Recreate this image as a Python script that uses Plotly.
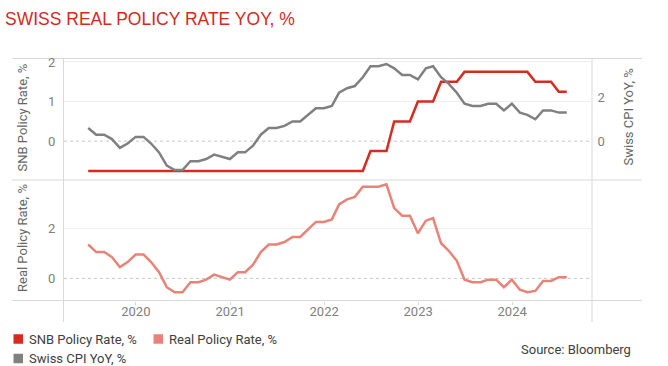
import pandas as pd
import plotly.graph_objects as go

# ---------------- data (monthly, month-end, Jun 2019 – Jul 2024) ----------------
months = pd.date_range("2019-06-30", periods=62, freq=pd.offsets.MonthEnd())

snb_rate = [
    -0.75, -0.75, -0.75, -0.75, -0.75, -0.75, -0.75,                          # 2019 Jun-Dec
    -0.75, -0.75, -0.75, -0.75, -0.75, -0.75, -0.75, -0.75, -0.75, -0.75, -0.75, -0.75,  # 2020
    -0.75, -0.75, -0.75, -0.75, -0.75, -0.75, -0.75, -0.75, -0.75, -0.75, -0.75, -0.75,  # 2021
    -0.75, -0.75, -0.75, -0.75, -0.75, -0.25, -0.25, -0.25, 0.5, 0.5, 0.5, 1.0,          # 2022
    1.0, 1.0, 1.5, 1.5, 1.5, 1.75, 1.75, 1.75, 1.75, 1.75, 1.75, 1.75,                   # 2023
    1.75, 1.75, 1.5, 1.5, 1.5, 1.25, 1.25,                                              # 2024
]
swiss_cpi = [
    0.6, 0.3, 0.3, 0.1, -0.3, -0.1, 0.2,
    0.2, -0.1, -0.5, -1.1, -1.3, -1.3, -0.9, -0.9, -0.8, -0.6, -0.7, -0.8,
    -0.5, -0.5, -0.2, 0.3, 0.6, 0.6, 0.7, 0.9, 0.9, 1.2, 1.5, 1.5,
    1.6, 2.2, 2.4, 2.5, 2.9, 3.4, 3.4, 3.5, 3.3, 3.0, 3.0, 2.8,
    3.3, 3.4, 2.9, 2.6, 2.2, 1.7, 1.6, 1.6, 1.7, 1.7, 1.4, 1.7,
    1.3, 1.2, 1.0, 1.4, 1.4, 1.3, 1.3,
]
real_rate = [
    1.35, 1.05, 1.05, 0.85, 0.45, 0.65, 0.95,
    0.95, 0.65, 0.25, -0.35, -0.55, -0.55, -0.15, -0.15, -0.05, 0.15, 0.05, -0.05,
    0.25, 0.25, 0.55, 1.05, 1.35, 1.35, 1.45, 1.65, 1.65, 1.95, 2.25, 2.25,
    2.35, 2.95, 3.15, 3.25, 3.65, 3.65, 3.65, 3.75, 2.8, 2.5, 2.5, 1.8,
    2.3, 2.4, 1.4, 1.1, 0.7, -0.05, -0.15, -0.15, -0.05, -0.05, -0.35, -0.05,
    -0.45, -0.55, -0.5, -0.1, -0.1, 0.05, 0.05,
]

series_names = ["SNB Policy Rate, %", "Real Policy Rate, %", "Swiss CPI YoY, %"]
title_text = "SWISS REAL POLICY RATE YOY, %"
source_text = "Source: Bloomberg"

# ---------------- style ----------------
RED = "#d62b1f"
SALMON = "#e98377"
GREY = "#808080"
LINE = "#d9d9d9"
NARROW = "Roboto, sans-serif"
W, H = 668, 366
L, R, T, B = 64, 76, 58, 65
PW, PH = W - L - R, H - T - B


def px_x(px):
    return (px - L) / PW


def px_y(py):
    return (H - B - py) / PH


fig = go.Figure()
fig.add_trace(go.Scatter(x=months, y=swiss_cpi, name=series_names[2], mode="lines",
                         line=dict(color=GREY, width=2.5), xaxis="x", yaxis="y2", showlegend=False))
fig.add_trace(go.Scatter(x=months, y=snb_rate, name=series_names[0], mode="lines",
                         line=dict(color=RED, width=2.5), xaxis="x", yaxis="y", showlegend=False))
fig.add_trace(go.Scatter(x=months, y=real_rate, name=series_names[1], mode="lines",
                         line=dict(color=SALMON, width=2.5), xaxis="x", yaxis="y3", showlegend=False))

split = px_y(180)
tickfont = dict(family=NARROW, size=13, color="#808080")

fig.update_layout(
    width=W, height=H, margin=dict(l=L, r=R, t=T, b=B),
    paper_bgcolor="white", plot_bgcolor="white",
    showlegend=False,
    xaxis=dict(domain=[0, 1], anchor="y3", type="date",
               range=["2019-03-28", "2024-11-06"],
               tick0="2020-01-01", dtick="M12", tickformat="%Y",
               showgrid=False, zeroline=False, showline=False,
               ticks="outside", ticklen=3, tickcolor=LINE, tickfont=tickfont,
               ticklabelstandoff=-5),
    yaxis=dict(domain=[split, 1], anchor="x", range=[-0.98, 2.1],
               tickvals=[0, 1, 2], showgrid=False, zeroline=False, showline=False,
               ticks="outside", ticklen=5, tickcolor="rgba(0,0,0,0)", tickfont=tickfont,
               minor=dict(tickmode="array", tickvals=[1, 2], showgrid=True,
                          gridcolor="#eeeeee", gridwidth=1, ticks="")),
    yaxis2=dict(overlaying="y", side="right", anchor="x", range=[-1.75, 3.77],
                tickvals=[0, 2], showgrid=False, zeroline=False, showline=False,
                ticks="outside", ticklen=2, tickcolor="rgba(0,0,0,0)", tickfont=tickfont),
    yaxis3=dict(domain=[0, split], anchor="x", range=[-0.9, 3.92],
                tickvals=[0, 2], showgrid=False, zeroline=False, showline=False,
                ticks="outside", ticklen=5, tickcolor="rgba(0,0,0,0)", tickfont=tickfont,
                minor=dict(tickmode="array", tickvals=[2], showgrid=True,
                           gridcolor="#eeeeee", gridwidth=1, ticks="")),
)

shapes = []
# dotted zero lines
for yr in ["y", "y3"]:
    shapes.append(dict(type="line", xref="paper", x0=0, x1=1, yref=yr, y0=0, y1=0,
                       line=dict(color="#c8c8c8", width=1, dash="dot"), layer="below"))
# table frame lines
for py in [58.5, 180, 300.5]:
    shapes.append(dict(type="line", xref="paper", x0=px_x(12), x1=px_x(642), yref="paper",
                       y0=px_y(py), y1=px_y(py), line=dict(color=LINE, width=1), layer="below"))
for pxv in [63.5, 592]:
    shapes.append(dict(type="line", xref="paper", x0=px_x(pxv), x1=px_x(pxv), yref="paper",
                       y0=px_y(58), y1=px_y(322), line=dict(color=LINE, width=1), layer="below"))
# legend keys
legend_items = [(series_names[0], RED, 13.5, 339), (series_names[1], SALMON, 153.5, 339),
                (series_names[2], GREY, 13.5, 358.5)]
annotations = []
for name, col, kx, ky in legend_items:
    shapes.append(dict(type="rect", xref="paper", yref="paper",
                       x0=px_x(kx), x1=px_x(kx + 9.5), y0=px_y(ky - 4.75), y1=px_y(ky + 4.75),
                       fillcolor=col, line=dict(width=0)))
    annotations.append(dict(text=name, xref="paper", yref="paper", x=px_x(kx + 13), y=px_y(ky),
                            xanchor="left", yanchor="middle", showarrow=False,
                            font=dict(family=NARROW, size=13, color="#404040")))

annotations += [
    dict(text=title_text, xref="paper", yref="paper", x=px_x(3), y=px_y(18.5),
         xanchor="left", yanchor="middle", showarrow=False,
         font=dict(family="Liberation Sans, Arial, sans-serif", size=17.5, color="#d42a1e")),
    dict(text=source_text, xref="paper", yref="paper", x=px_x(633), y=px_y(349),
         xanchor="right", yanchor="middle", showarrow=False,
         font=dict(family=NARROW, size=13, color="#404040")),
    dict(text="SNB Policy Rate, %", xref="paper", yref="paper", x=px_x(22), y=px_y(117.5),
         textangle=-90, xanchor="center", yanchor="middle", showarrow=False,
         font=dict(family=NARROW, size=13, color="#666666")),
    dict(text="Real Policy Rate, %", xref="paper", yref="paper", x=px_x(22), y=px_y(238),
         textangle=-90, xanchor="center", yanchor="middle", showarrow=False,
         font=dict(family=NARROW, size=13, color="#666666")),
    dict(text="Swiss CPI YoY, %", xref="paper", yref="paper", x=px_x(628), y=px_y(117.5),
         textangle=-90, xanchor="center", yanchor="middle", showarrow=False,
         font=dict(family=NARROW, size=13, color="#666666")),
]
fig.update_layout(shapes=shapes, annotations=annotations)

fig.write_html("out.html", post_script="document.body.style.margin='0';",
               config={"displayModeBar": False})
